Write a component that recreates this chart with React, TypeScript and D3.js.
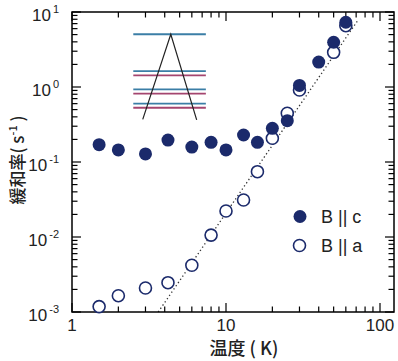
import React, { useEffect, useRef } from "react";
import * as d3 from "d3";

// temperatures (K)
const temps = [1.5, 2, 3, 4.2, 6, 8, 10, 13, 16, 20, 25, 30, 40, 50, 60];
// relaxation rate, B || c (filled)
const rateC = [0.17, 0.145, 0.128, 0.196, 0.158, 0.183, 0.145, 0.229, 0.183, 0.281, 0.356, 1.05, 2.15, 3.95, 7.3];
// relaxation rate, B || a (open), no point at 40 K
const tempsA = [1.5, 2, 3, 4.2, 6, 8, 10, 13, 16, 20, 25, 30, 50, 60];
const rateA = [0.00118, 0.00165, 0.00209, 0.00246, 0.0042, 0.0106, 0.0222, 0.0311, 0.0743, 0.207, 0.446, 0.912, 2.9, 6.57];

// dotted T^3 guide
const fitT = [3.63, 72];
const fitRate = [0.001, 0.001 * Math.pow(72 / 3.63, 3)];

// inset level diagram (data units)
const levelX = [2.5, 7.4];
const levels = [
  { v: 5.05, c: "blue" },
  { v: 1.63, c: "blue" },
  { v: 1.43, c: "red" },
  { v: 0.932, c: "blue" },
  { v: 0.814, c: "red" },
  { v: 0.599, c: "blue" },
  { v: 0.529, c: "red" },
];
const triangle = [
  [2.88, 0.37],
  [4.38, 5.05],
  [6.45, 0.365],
];

const xTickLabels = ["1", "10", "100"];
const yTickExp = ["1", "0", "-1", "-2", "-3"];

export default function App() {
  const ref = useRef<SVGSVGElement>(null);

  useEffect(() => {
    const svg = d3.select(ref.current);
    svg.selectAll("*").remove();

    const left = 72, right = 394, top = 12, bottom = 312;
    const x = d3.scaleLog().domain([1, Math.pow(10, (right - left) / 154)]).range([left, right]);
    const y = d3.scaleLog().domain([1e-3, 10]).range([bottom, top]);

    const navy = "#1b2a6b";
    const numFont = "'Liberation Sans', Arial, sans-serif";
    const cjkFont = "'Noto Sans CJK JP', 'Noto Sans CJK SC', sans-serif";

    // inset
    const g0 = svg.append("g");
    levels.forEach((l) => {
      g0.append("line")
        .attr("x1", x(levelX[0]))
        .attr("x2", x(levelX[1]))
        .attr("y1", y(l.v))
        .attr("y2", y(l.v))
        .attr("stroke", l.c === "blue" ? "#3b7ea6" : "#a4456f")
        .attr("stroke-width", 1.8);
    });
    g0.append("path")
      .attr("d", d3.line<number[]>().x((d) => x(d[0])).y((d) => y(d[1]))(triangle))
      .attr("fill", "none")
      .attr("stroke", "#222")
      .attr("stroke-width", 1.2);

    // fit line
    svg.append("line")
      .attr("x1", x(fitT[0]))
      .attr("y1", y(fitRate[0]))
      .attr("x2", x(fitT[1]))
      .attr("y2", y(fitRate[1]))
      .attr("stroke", "#333")
      .attr("stroke-width", 1.3)
      .attr("stroke-dasharray", "1.3,2.6");

    // axes box
    svg.append("rect")
      .attr("x", left)
      .attr("y", top)
      .attr("width", right - left)
      .attr("height", bottom - top)
      .attr("fill", "none")
      .attr("stroke", "#000")
      .attr("stroke-width", 1.5);

    const xTicks: number[] = [];
    for (let dec = 1; dec <= 100; dec *= 10)
      for (let m = 1; m <= 9; m++) if (dec * m <= x.domain()[1]) xTicks.push(dec * m);
    xTicks.forEach((t) => {
      const len = Math.abs(Math.log10(t) % 1) < 1e-9 ? 9 : 5.5;
      svg.append("line").attr("x1", x(t)).attr("x2", x(t)).attr("y1", bottom).attr("y2", bottom - len).attr("stroke", "#000").attr("stroke-width", 1.2);
      svg.append("line").attr("x1", x(t)).attr("x2", x(t)).attr("y1", top).attr("y2", top + len).attr("stroke", "#000").attr("stroke-width", 1.2);
    });

    const yTicks: number[] = [];
    for (let dec = 1e-3; dec < 10; dec *= 10)
      for (let m = 1; m <= 9; m++) yTicks.push(dec * m);
    yTicks.push(10);
    yTicks.forEach((t) => {
      const lg = Math.log10(t);
      const len = Math.abs(lg - Math.round(lg)) < 1e-9 ? 9 : 5.5;
      svg.append("line").attr("x1", left).attr("x2", left + len).attr("y1", y(t)).attr("y2", y(t)).attr("stroke", "#000").attr("stroke-width", 1.2);
      svg.append("line").attr("x1", right).attr("x2", right - len).attr("y1", y(t)).attr("y2", y(t)).attr("stroke", "#000").attr("stroke-width", 1.2);
    });

    // x tick labels
    xTickLabels.forEach((s) => {
      svg.append("text")
        .attr("x", x(+s))
        .attr("y", 331)
        .attr("text-anchor", "middle")
        .attr("font-family", numFont)
        .attr("font-size", 17)
        .attr("fill", "#222")
        .text(s);
    });

    // y tick labels
    yTickExp.forEach((e) => {
      const t = svg.append("text")
        .attr("x", 59)
        .attr("y", y(Math.pow(10, +e)) + 9)
        .attr("text-anchor", "end")
        .attr("font-family", numFont)
        .attr("font-size", 17)
        .attr("fill", "#222");
      t.append("tspan").text("10");
      t.append("tspan")
        .attr("font-size", 11)
        .attr("dx", 2)
        .attr("dy", -8)
        .text(e);
    });

    // axis titles
    svg.append("text")
      .attr("x", 244)
      .attr("y", 355)
      .attr("text-anchor", "middle")
      .attr("font-family", cjkFont)
      .attr("font-size", 18)
      .attr("font-weight", 500)
      .attr("fill", "#222")
      .text("温度 ( K)");

    const yl = svg.append("text")
      .attr("transform", "translate(24,160) rotate(-90)")
      .attr("text-anchor", "middle")
      .attr("font-family", cjkFont)
      .attr("font-size", 17)
      .attr("font-weight", 500)
      .attr("fill", "#222");
    yl.append("tspan").text("緩和率( s");
    yl.append("tspan").attr("font-size", 11).attr("dy", -7).text("-1");
    yl.append("tspan").attr("dy", 7).text(" )");

    // data
    svg.append("g")
      .selectAll("circle")
      .data(tempsA.map((t, i) => [t, rateA[i]]))
      .join("circle")
      .attr("cx", (d) => x(d[0]))
      .attr("cy", (d) => y(d[1]))
      .attr("r", 6)
      .attr("fill", "#fff")
      .attr("stroke", navy)
      .attr("stroke-width", 1.6);

    svg.append("g")
      .selectAll("circle")
      .data(temps.map((t, i) => [t, rateC[i]]))
      .join("circle")
      .attr("cx", (d) => x(d[0]))
      .attr("cy", (d) => y(d[1]))
      .attr("r", 6.5)
      .attr("fill", navy);

    // legend
    const lg = svg.append("g");
    lg.append("circle").attr("cx", 300).attr("cy", 216.5).attr("r", 6.5).attr("fill", navy);
    lg.append("circle").attr("cx", 299.5).attr("cy", 245.5).attr("r", 6).attr("fill", "#fff").attr("stroke", navy).attr("stroke-width", 1.6);
    lg.append("text").attr("x", 321).attr("y", 222.5).attr("font-family", numFont).attr("font-size", 18).attr("fill", "#222").text("B || c");
    lg.append("text").attr("x", 321).attr("y", 251.5).attr("font-family", numFont).attr("font-size", 18).attr("fill", "#222").text("B || a");
  }, []);

  return (
    <svg
      ref={ref}
      width={398}
      height={361}
      style={{ position: "absolute", left: 0, top: 0, background: "#fff" }}
    />
  );
}
